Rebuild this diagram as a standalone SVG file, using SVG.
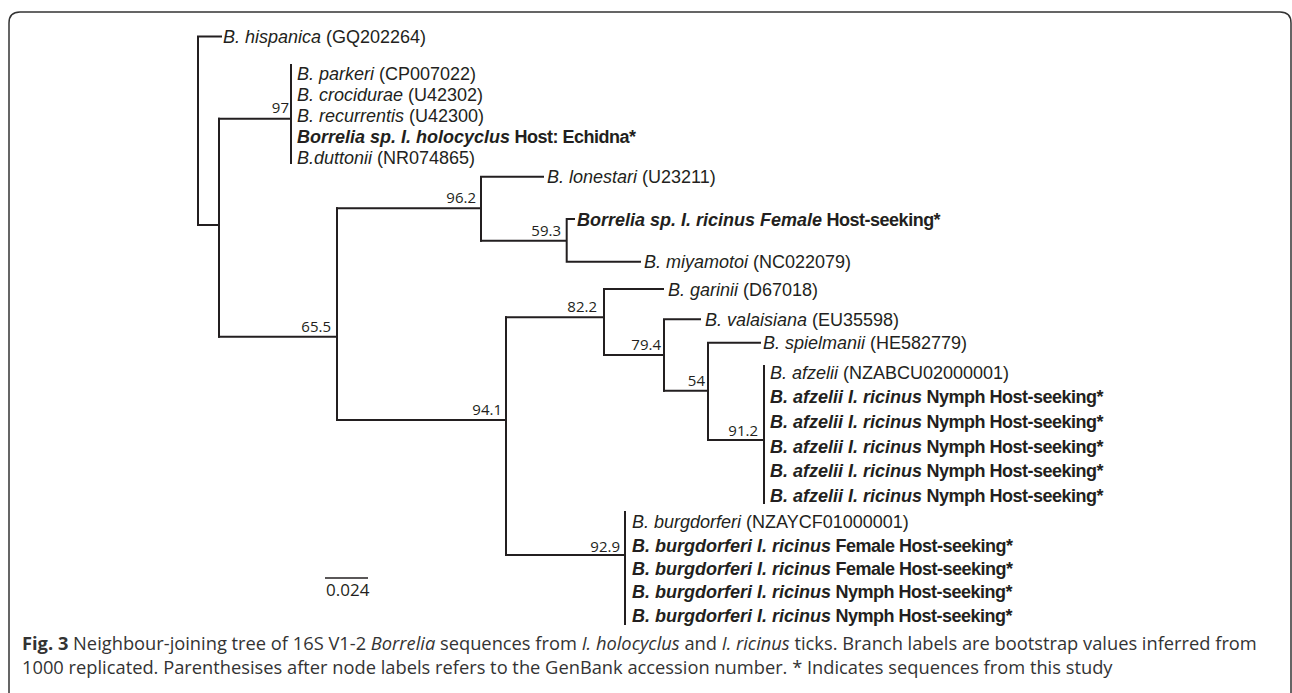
<svg xmlns="http://www.w3.org/2000/svg" width="1292" height="693" viewBox="0 0 1292 693">
<style>
.t{font-family:"Liberation Sans","Open Sans",sans-serif;font-size:18px;fill:#231f20}
.b{font-family:"Open Sans","Noto Sans","Liberation Sans",sans-serif;font-size:15px;fill:#231f20;text-anchor:end}
.cap{font-family:"Open Sans","Noto Sans","Liberation Sans",sans-serif;font-size:18.3px;fill:#333}
.i{font-style:italic}
.bd{font-weight:bold;letter-spacing:-0.5px}
.bi{font-weight:bold;font-style:italic}
.br{fill:none;stroke:#231f20;stroke-width:2;stroke-linecap:square}
</style>
<rect width="1292" height="693" fill="#fff"/>
<path d="M9,700 V23 Q9,12 20,12 H1280 Q1291,12 1291,23 V700" fill="none" stroke="#333" stroke-width="1.5"/>
<g id="connectors" class="br">
<path d="M221,36.5 H198 V225 H219"/>
<path d="M219,118.7 V336.7"/>
<path d="M219,118.7 H291 M291,65 V163"/>
<path d="M219,336.7 H337 M337,208.3 V420"/>
<path d="M337,208.3 H481 M481,176.7 V240.7 M481,176.7 H543"/>
<path d="M481,240.7 H566.7 M566.7,219 V261.7 M566.7,219 H574 M566.7,261.7 H640"/>
<path d="M337,420 H506 M506,317.3 V555"/>
<path d="M506,317.3 H604 M604,289 V355 M604,289 H663"/>
<path d="M604,355 H664 M664,319.3 V390.7 M664,319.3 H700"/>
<path d="M664,390.7 H708 M708,342.7 V440 M708,342.7 H760"/>
<path d="M708,440 H764 M764,366 V503"/>
<path d="M506,555 H625 M625,512 V624"/>
</g>
<g id="leaf-hispanica"><text class="t" x="223" y="43"><tspan class="i">B. hispanica</tspan> (GQ202264)</text></g>
<g id="node-97">
<text class="b" x="289" y="113">97</text>
<text class="t"><tspan x="297" y="80"><tspan class="i">B. parkeri</tspan> (CP007022)</tspan><tspan x="297" y="101"><tspan class="i">B. crocidurae</tspan> (U42302)</tspan><tspan x="297" y="122"><tspan class="i">B. recurrentis</tspan> (U42300)</tspan><tspan x="297" y="143"><tspan class="bi">Borrelia sp. I. holocyclus</tspan><tspan class="bd"> Host: Echidna*</tspan></tspan><tspan x="297" y="164"><tspan class="i">B.duttonii</tspan> (NR074865)</tspan></text>
</g>
<g id="node-65-5"><text class="b" x="331" y="332">65.5</text></g>
<g id="node-96-2"><text class="b" x="476" y="203">96.2</text></g>
<g id="leaf-lonestari"><text class="t" x="547" y="183"><tspan class="i">B. lonestari</tspan> (U23211)</text></g>
<g id="node-59-3"><text class="b" x="561" y="236">59.3</text></g>
<g id="leaf-ricinus-female"><text class="t" x="577" y="225.5"><tspan class="bi">Borrelia sp. I. ricinus Female</tspan><tspan class="bd"> Host-seeking*</tspan></text></g>
<g id="leaf-miyamotoi"><text class="t" x="644" y="268"><tspan class="i">B. miyamotoi</tspan> (NC022079)</text></g>
<g id="node-94-1"><text class="b" x="502" y="415">94.1</text></g>
<g id="node-82-2"><text class="b" x="597" y="312">82.2</text></g>
<g id="leaf-garinii"><text class="t" x="668" y="295.5"><tspan class="i">B. garinii</tspan> (D67018)</text></g>
<g id="node-79-4"><text class="b" x="661" y="350">79.4</text></g>
<g id="leaf-valaisiana"><text class="t" x="705" y="326"><tspan class="i">B. valaisiana</tspan> (EU35598)</text></g>
<g id="node-54"><text class="b" x="705" y="386">54</text></g>
<g id="leaf-spielmanii"><text class="t" x="763" y="349"><tspan class="i">B. spielmanii</tspan> (HE582779)</text></g>
<g id="node-91-2">
<text class="b" x="758" y="436">91.2</text>
<text class="t"><tspan x="770" y="378.5"><tspan class="i">B. afzelii</tspan> (NZABCU02000001)</tspan><tspan x="770" y="403"><tspan class="bi">B. afzelii I. ricinus</tspan><tspan class="bd"> Nymph Host-seeking*</tspan></tspan><tspan x="770" y="428"><tspan class="bi">B. afzelii I. ricinus</tspan><tspan class="bd"> Nymph Host-seeking*</tspan></tspan><tspan x="770" y="452.5"><tspan class="bi">B. afzelii I. ricinus</tspan><tspan class="bd"> Nymph Host-seeking*</tspan></tspan><tspan x="770" y="477"><tspan class="bi">B. afzelii I. ricinus</tspan><tspan class="bd"> Nymph Host-seeking*</tspan></tspan><tspan x="770" y="502"><tspan class="bi">B. afzelii I. ricinus</tspan><tspan class="bd"> Nymph Host-seeking*</tspan></tspan></text>
</g>
<g id="node-92-9">
<text class="b" x="620" y="552">92.9</text>
<text class="t"><tspan x="632" y="528"><tspan class="i">B. burgdorferi</tspan> (NZAYCF01000001)</tspan><tspan x="632" y="551.5"><tspan class="bi">B. burgdorferi I. ricinus</tspan><tspan class="bd"> Female Host-seeking*</tspan></tspan><tspan x="632" y="575"><tspan class="bi">B. burgdorferi I. ricinus</tspan><tspan class="bd"> Female Host-seeking*</tspan></tspan><tspan x="632" y="598"><tspan class="bi">B. burgdorferi I. ricinus</tspan><tspan class="bd"> Nymph Host-seeking*</tspan></tspan><tspan x="632" y="621.5"><tspan class="bi">B. burgdorferi I. ricinus</tspan><tspan class="bd"> Nymph Host-seeking*</tspan></tspan></text>
</g>
<g id="scale-bar">
<line x1="325" y1="578" x2="368" y2="578" stroke="#231f20" stroke-width="1.5"/>
<text class="b" x="326" y="596" style="font-size:17px;text-anchor:start">0.024</text>
</g>
<g id="caption">
<text class="cap" x="22" y="650"><tspan class="bd" style="letter-spacing:0">Fig. 3</tspan> Neighbour-joining tree of 16S V1-2 <tspan class="i">Borrelia</tspan> sequences from <tspan class="i">I. holocyclus</tspan> and <tspan class="i">I. ricinus</tspan> ticks. Branch labels are bootstrap values inferred from</text>
<text class="cap" x="22" y="674">1000 replicated. Parenthesises after node labels refers to the GenBank accession number. * Indicates sequences from this study</text>
</g>
</svg>
